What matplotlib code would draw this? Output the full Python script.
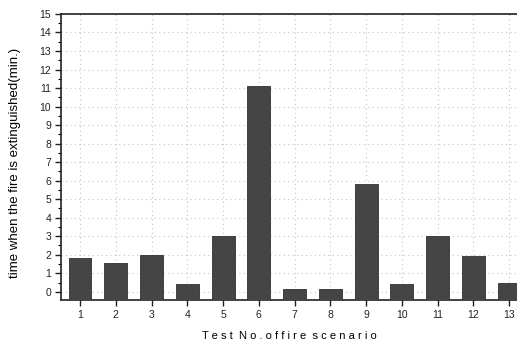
import numpy as np
import matplotlib
matplotlib.use("Agg")
import matplotlib.pyplot as plt
from matplotlib.ticker import MultipleLocator

plt.rcParams["font.family"] = ["Liberation Sans", "DejaVu Sans"]

tests = [1, 2, 3, 4, 5, 6, 7, 8, 9, 10, 11, 12, 13]
minutes = [1.85, 1.55, 1.98, 0.4, 3.0, 11.12, 0.15, 0.15, 5.8, 0.4, 3.0, 1.92, 0.45]

y_bottom = -0.45

fig = plt.figure(figsize=(5.17, 3.49), dpi=100)
ax = fig.add_axes([0.118, 0.14, 0.885, 0.82])

heights = np.array(minutes) - y_bottom
ax.bar(tests, heights, bottom=y_bottom, width=0.64, color="#454545",
       edgecolor="#303030", linewidth=0.6, zorder=3)

ax.set_xlim(0.47, 13.26)
ax.set_ylim(y_bottom, 15)
ax.set_xticks(tests)
ax.set_yticks(range(0, 16))
ax.yaxis.set_minor_locator(MultipleLocator(0.5))

ax.grid(True, which="major", color="#c4c4c4", linestyle=(0, (1, 3)), linewidth=0.8, zorder=0)

ax.spines["right"].set_visible(False)
for s in ["left", "bottom", "top"]:
    ax.spines[s].set_linewidth(1.2)
    ax.spines[s].set_color("#222222")

ax.tick_params(axis="both", which="major", direction="out", length=4, width=1,
               labelsize=7.5, colors="#222222", pad=3)
ax.tick_params(axis="y", which="minor", direction="out", length=2.5, width=0.8)
ax.tick_params(axis="x", which="minor", length=0)

ax.set_xlabel("T e s t  N o . o f f i r e  s c e n a r i o", fontsize=8, labelpad=8)
ax.set_ylabel("time when the fire is extinguished(min.)", fontsize=9.5)
ax.yaxis.set_label_coords(-0.088, 0.48)

fig.savefig("out.png", dpi=100)
